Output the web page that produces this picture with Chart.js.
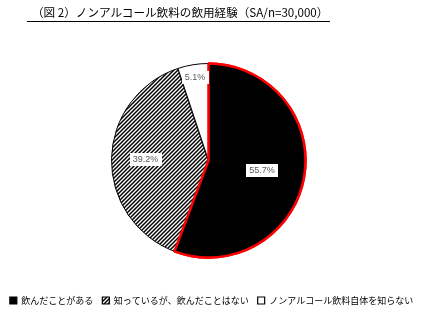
<!DOCTYPE html>
<html><head><meta charset="utf-8">
<script src="https://cdn.jsdelivr.net/npm/chart.js@4/dist/chart.umd.min.js"></script>
<style>html,body{margin:0;padding:0;background:#fff;}#wrap{position:relative;width:423px;height:312px;}
#c{position:absolute;left:0;top:0;}
#title{position:absolute;left:27px;top:5px;font:11.6px "Noto Sans CJK JP";color:#000;line-height:15px;border-bottom:1px solid #000;padding:0 2px 1px 5px;white-space:nowrap;}
</style>
</head><body><div id="wrap"><canvas id="c" width="423" height="312"></canvas><div id="title"></div></div>
<script>
const titleText = '（図 2）ノンアルコール飲料の飲用経験（SA/n=30,000）';
const categories = ['飲んだことがある', '知っているが、飲んだことはない', 'ノンアルコール飲料自体を知らない'];
const values = [55.7, 39.2, 5.1];
const valueLabels = ['55.7%', '39.2%', '5.1%'];

document.getElementById('title').textContent = titleText;

function stripePattern(){
  const p = document.createElement('canvas'); p.width = 4; p.height = 4;
  const g = p.getContext('2d');
  g.fillStyle = '#fff'; g.fillRect(0,0,4,4);
  g.strokeStyle = '#000'; g.lineWidth = 1.5;
  g.beginPath();
  g.moveTo(-1,5); g.lineTo(5,-1);
  g.moveTo(-1,1); g.lineTo(1,-1);
  g.moveTo(3,5); g.lineTo(5,3);
  g.stroke();
  return g.createPattern(p,'repeat');
}
const ctx = document.getElementById('c').getContext('2d');
const stripes = stripePattern();
const fills = ['#000000', stripes, '#ffffff'];

const labelRadius = [0.56, 0.65, 0.87];

const shiftArea = {
  id: 'shiftArea',
  afterLayout(chart, args, opts){
    const a = chart.chartArea;
    a.left += opts.dx; a.right += opts.dx;
    a.top += opts.dy; a.bottom += opts.dy;
  }
};

const redrawFirst = {
  id: 'redrawFirst',
  afterDatasetsDraw(chart){
    const meta = chart.getDatasetMeta(0);
    const c = chart.ctx;
    c.save();
    meta.data[0].draw(c);
    c.restore();
    c.save();
    c.font = '9px "Liberation Sans", Arial, sans-serif';
    c.textAlign = 'center'; c.textBaseline = 'middle';
    meta.data.forEach((arc, i) => {
      const p = arc.getProps(['x','y','startAngle','endAngle','outerRadius']);
      const mid = (p.startAngle + p.endAngle)/2;
      const r = p.outerRadius * labelRadius[i];
      const x = p.x + Math.cos(mid)*r, y = p.y + Math.sin(mid)*r;
      const t = valueLabels[i];
      const w = c.measureText(t).width + 6, h = 13;
      c.fillStyle = '#fff';
      c.fillRect(Math.round(x - w/2), Math.round(y - h/2), Math.round(w), h);
      c.fillStyle = '#595959';
      c.fillText(t, x, y + 0.5);
    });
    c.restore();
  }
};

new Chart(ctx, {
  type: 'pie',
  data: {
    labels: categories,
    datasets: [{
      data: values,
      backgroundColor: fills,
      borderColor: ['#ff0000', '#000000', '#000000'],
      borderWidth: [2.5, 1, 1],
      hoverOffset: 0,
      radius: 97
    }]
  },
  options: {
    responsive: false,
    animation: false,
    events: [],
    layout: { padding: { top: 37, bottom: -3, left: 0, right: 0 } },
    plugins: {
      title: { display: false },
      shiftArea: { dx: -3, dy: -1.5 },
      legend: {
        position: 'bottom',
        labels: {
          boxWidth: 7, boxHeight: 7, padding: 9, color: '#595959',
          font: { family: '"Noto Sans CJK JP"', size: 9 },
          generateLabels(chart){
            return categories.map((t, i) => ({
              text: t, fillStyle: fills[i], strokeStyle: '#000', lineWidth: 1.2, index: i, hidden: false
            }));
          }
        }
      },
      tooltip: { enabled: false }
    }
  },
  plugins: [shiftArea, redrawFirst]
});
</script></body></html>
